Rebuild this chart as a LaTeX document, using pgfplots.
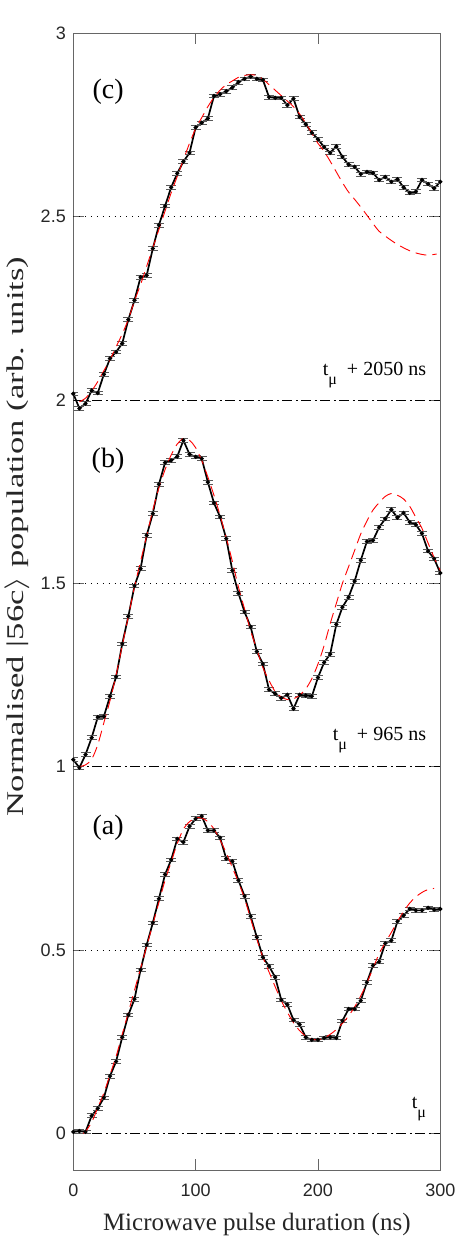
\documentclass[border=0pt]{standalone}
\usepackage{fontspec}
\setmainfont{Liberation Serif}
\newfontfamily\ticksans{Liberation Sans}
\usepackage{pgfplots}
\pgfplotsset{compat=1.18}
\usepackage{pgfplotstable}

% Measured populations (offset by 0, 1 and 2 for the three delays)
\pgfplotstableread{
t y
0 0.004
5 0.006
10 0.004
15 0.048
20 0.068
25 0.097
30 0.156
35 0.196
40 0.262
45 0.323
50 0.366
55 0.446
60 0.514
65 0.574
70 0.640
75 0.706
80 0.746
85 0.803
90 0.794
95 0.837
100 0.858
105 0.865
110 0.826
115 0.826
120 0.806
125 0.749
130 0.742
135 0.690
140 0.647
145 0.592
150 0.535
155 0.480
160 0.456
165 0.426
170 0.364
175 0.351
180 0.309
185 0.297
190 0.262
195 0.255
200 0.255
205 0.260
210 0.262
215 0.260
220 0.307
225 0.339
230 0.339
235 0.362
240 0.412
245 0.458
250 0.468
255 0.518
260 0.526
265 0.578
270 0.594
275 0.612
280 0.608
285 0.608
290 0.615
295 0.610
300 0.612
}\dataA

\pgfplotstableread{
t y
0 1.019
5 0.997
10 1.033
15 1.079
20 1.135
25 1.137
30 1.192
35 1.245
40 1.335
45 1.410
50 1.493
55 1.540
60 1.631
65 1.690
70 1.770
75 1.829
80 1.835
85 1.846
90 1.890
95 1.852
100 1.845
105 1.840
110 1.776
115 1.719
120 1.681
125 1.622
130 1.535
135 1.473
140 1.422
145 1.381
150 1.314
155 1.280
160 1.210
165 1.199
170 1.187
175 1.196
180 1.158
185 1.196
190 1.194
195 1.192
200 1.243
205 1.284
210 1.307
215 1.388
220 1.435
225 1.462
230 1.506
235 1.563
240 1.614
245 1.617
250 1.653
255 1.676
260 1.701
265 1.679
270 1.692
275 1.667
280 1.660
285 1.636
290 1.588
295 1.567
300 1.528
}\dataB

\pgfplotstableread{
t y
0 2.017
5 1.977
10 1.990
15 2.026
20 2.019
25 2.070
30 2.113
35 2.131
40 2.154
45 2.219
50 2.272
55 2.335
60 2.340
65 2.413
70 2.477
75 2.529
80 2.580
85 2.618
90 2.650
95 2.674
100 2.743
105 2.756
110 2.768
115 2.829
120 2.834
125 2.842
130 2.852
135 2.867
140 2.876
145 2.882
150 2.876
155 2.873
160 2.826
165 2.824
170 2.824
175 2.804
180 2.822
185 2.772
190 2.752
195 2.729
200 2.711
205 2.690
210 2.674
215 2.692
220 2.663
225 2.642
230 2.636
235 2.616
240 2.622
245 2.619
250 2.600
255 2.608
260 2.595
265 2.602
270 2.580
275 2.565
280 2.568
285 2.600
290 2.589
295 2.577
300 2.595
}\dataC

% Fitted curves
\pgfplotstableread{
t y
8 0.000
10 0.005
15 0.030
20 0.070
25 0.110
30 0.160
35 0.210
40 0.270
45 0.330
50 0.390
55 0.450
60 0.510
65 0.570
70 0.630
75 0.690
80 0.740
85 0.790
90 0.830
95 0.850
100 0.860
105 0.860
110 0.850
115 0.830
120 0.800
125 0.765
130 0.725
135 0.685
140 0.640
145 0.585
150 0.530
155 0.480
160 0.440
165 0.400
170 0.362
175 0.330
180 0.302
185 0.280
190 0.265
195 0.257
200 0.255
205 0.260
210 0.270
215 0.283
220 0.300
225 0.320
230 0.345
235 0.375
240 0.410
245 0.450
250 0.490
255 0.520
260 0.548
265 0.578
270 0.605
275 0.628
280 0.645
285 0.657
290 0.665
295 0.668
}\fitA

\pgfplotstableread{
t y
5 1.000
10 1.005
15 1.020
20 1.060
25 1.120
30 1.180
35 1.250
40 1.330
45 1.410
50 1.490
55 1.560
60 1.630
65 1.700
70 1.760
75 1.810
80 1.850
85 1.880
90 1.895
95 1.890
100 1.870
105 1.835
110 1.790
115 1.740
120 1.685
125 1.625
130 1.560
135 1.490
140 1.430
145 1.370
150 1.320
155 1.270
160 1.235
165 1.205
170 1.190
175 1.183
180 1.185
185 1.195
190 1.212
195 1.240
200 1.280
205 1.330
210 1.390
215 1.445
220 1.500
225 1.545
230 1.590
235 1.635
240 1.670
245 1.700
250 1.720
255 1.737
260 1.745
265 1.740
270 1.730
275 1.710
280 1.680
285 1.650
290 1.610
295 1.570
300 1.535
}\fitB

\pgfplotstableread{
t y
5 1.995
10 2.005
15 2.025
20 2.050
25 2.080
30 2.110
35 2.145
40 2.180
45 2.220
50 2.270
55 2.315
60 2.365
65 2.415
70 2.465
75 2.515
80 2.565
85 2.610
90 2.655
95 2.700
100 2.740
105 2.770
110 2.800
115 2.825
120 2.845
125 2.860
130 2.870
135 2.880
140 2.885
145 2.887
150 2.885
155 2.875
160 2.860
165 2.845
170 2.830
175 2.815
180 2.800
185 2.780
190 2.755
195 2.727
200 2.700
205 2.678
210 2.651
215 2.622
220 2.593
225 2.567
230 2.547
235 2.526
240 2.504
245 2.481
250 2.460
255 2.447
260 2.435
265 2.424
270 2.415
275 2.407
280 2.401
285 2.397
290 2.395
297 2.398
}\fitC

\pgfplotsset{
  data/.style={black, line width=1.7pt, mark=*, mark size=1.1pt,
    error bars/.cd, y dir=both, y fixed=0.005,
    error bar style={line width=0.8pt, black},
    error mark options={rotate=90, mark size=5pt, line width=0.8pt, black!65}},
  fit/.style={red, line width=0.9pt, dash pattern=on 11pt off 6pt, no marks},
  half/.style={black, line width=0.8pt, dash pattern=on 0.9pt off 5pt, no marks},
  base/.style={black, line width=0.8pt, dash pattern=on 10pt off 3.5pt on 2pt off 3.5pt, no marks},
}

\begin{document}
\begin{tikzpicture}
\begin{axis}[
  at={(0,0)}, anchor=south west,
  scale only axis, width=367pt, height=1136.7pt,
  xmin=0, xmax=300, ymin=-0.1, ymax=3,
  xtick={0,100,200,300}, ytick={0,0.5,1,1.5,2,2.5,3},
  tick align=inside, major tick length=11pt,
  axis line style={black!60, line width=0.9pt},
  every tick/.style={black!60, line width=0.9pt},
  /pgf/number format/assume math mode=true,
  tick label style={font=\ticksans\fontsize{18}{18}\selectfont, text=black!85},
  xticklabel style={yshift=-10pt},
  yticklabel style={xshift=-4pt},
  xlabel={Microwave pulse duration (ns)},
  xlabel style={at={(axis description cs:0.5,0)}, anchor=base, yshift=-60pt,
    font=\fontsize{25}{30}\selectfont, text=black!85},
  ylabel={\scalebox{1.44}[1]{Normalised |56c$\rangle$ population (arb. units)}},
  ylabel style={at={(axis description cs:-0.137,0.557)}, anchor=base,
    font=\fontsize{24}{28}\selectfont, text=black!85},
]
\addplot[half] coordinates {(0,0.5) (300,0.5)};
\addplot[half] coordinates {(0,1.5) (300,1.5)};
\addplot[half] coordinates {(0,2.5) (300,2.5)};
\addplot[base] coordinates {(0,0) (300,0)};
\addplot[base] coordinates {(0,1) (300,1)};
\addplot[base] coordinates {(0,2) (300,2)};

\addplot[data] table[x=t, y=y] {\dataA};
\addplot[data] table[x=t, y=y] {\dataB};
\addplot[data] table[x=t, y=y] {\dataC};

\addplot[fit, smooth] table[x=t, y=y] {\fitA};
\addplot[fit, smooth] table[x=t, y=y] {\fitB};
\addplot[fit, smooth] table[x=t, y=y] {\fitC};

\node[font=\fontsize{28}{30}\selectfont] at (axis cs:28.4,0.834) {(a)};
\node[font=\fontsize{28}{30}\selectfont] at (axis cs:28.4,1.835) {(b)};
\node[font=\fontsize{28}{30}\selectfont] at (axis cs:28.4,2.840) {(c)};

\node[anchor=base east, inner sep=0pt, font=\fontsize{20}{24}\selectfont]
  at (axis cs:288.5,0.067) {t\raisebox{-0.45em}{\fontsize{16}{16}\selectfont μ}};
\node[anchor=base east, inner sep=0pt, font=\fontsize{20}{24}\selectfont]
  at (axis cs:288.5,1.071) {t\raisebox{-0.45em}{\fontsize{16}{16}\selectfont μ}\ \ + 965 ns};
\node[anchor=base east, inner sep=0pt, font=\fontsize{20}{24}\selectfont]
  at (axis cs:288.5,2.067) {t\raisebox{-0.45em}{\fontsize{16}{16}\selectfont μ}\ \ + 2050 ns};
\end{axis}
\pgfresetboundingbox
\useasboundingbox (-73.3pt,-87pt) rectangle (397.7pt,1170pt);
\end{tikzpicture}
\end{document}
